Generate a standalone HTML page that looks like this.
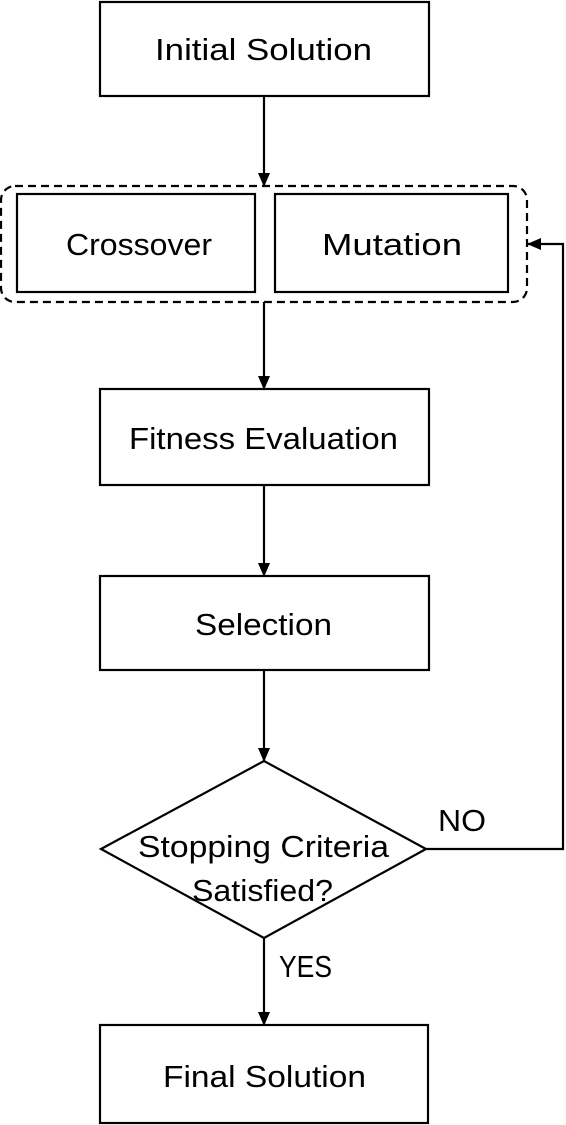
<!DOCTYPE html>
<html><head><style>body{margin:0;background:#fff}svg{display:block}</style></head><body>
<svg width="566" height="1125" viewBox="0 0 566 1125" xmlns="http://www.w3.org/2000/svg" font-family="Liberation Sans, sans-serif" font-size="31" fill="#000">
<defs><marker id="a" markerWidth="14" markerHeight="12" refX="13" refY="6" orient="auto" markerUnits="userSpaceOnUse"><path d="M0,0 L14,6 L0,12 z" fill="#000"/></marker></defs>
<g fill="none" stroke="#000" stroke-width="2.2">
<rect x="100" y="2" width="329" height="94"/>
<rect x="1" y="186" width="526" height="116" rx="14" stroke-dasharray="8,5"/>
<rect x="17" y="194" width="238" height="98"/>
<rect x="275" y="194" width="233" height="98"/>
<rect x="100" y="389" width="329" height="96"/>
<rect x="100" y="576" width="329" height="94"/>
<polygon points="101,849 264,761 426,849 264,938"/>
<rect x="100" y="1025" width="328" height="98"/>
<line x1="264" y1="96" x2="264" y2="186" marker-end="url(#a)"/>
<line x1="264" y1="302" x2="264" y2="389" marker-end="url(#a)"/>
<line x1="264" y1="485" x2="264" y2="576" marker-end="url(#a)"/>
<line x1="264" y1="670" x2="264" y2="761" marker-end="url(#a)"/>
<line x1="264" y1="938" x2="264" y2="1025" marker-end="url(#a)"/>
<polyline points="426,849 563,849 563,244 528,244" marker-end="url(#a)"/>
</g>
<g stroke="none">
<text x="155" y="60" textLength="217" lengthAdjust="spacingAndGlyphs">Initial Solution</text>
<text x="66" y="255" textLength="146" lengthAdjust="spacingAndGlyphs">Crossover</text>
<text x="322" y="255" textLength="140" lengthAdjust="spacingAndGlyphs">Mutation</text>
<text x="129" y="449" textLength="269" lengthAdjust="spacingAndGlyphs">Fitness Evaluation</text>
<text x="195" y="635" textLength="137" lengthAdjust="spacingAndGlyphs">Selection</text>
<text x="138" y="857" textLength="251" lengthAdjust="spacingAndGlyphs">Stopping Criteria</text>
<text x="192" y="901" textLength="141" lengthAdjust="spacingAndGlyphs">Satisfied?</text>
<text x="438" y="831" textLength="48" lengthAdjust="spacingAndGlyphs">NO</text>
<text x="279" y="977" textLength="53" lengthAdjust="spacingAndGlyphs">YES</text>
<text x="163" y="1087" textLength="203" lengthAdjust="spacingAndGlyphs">Final Solution</text>
</g>
</svg>
</body></html>
